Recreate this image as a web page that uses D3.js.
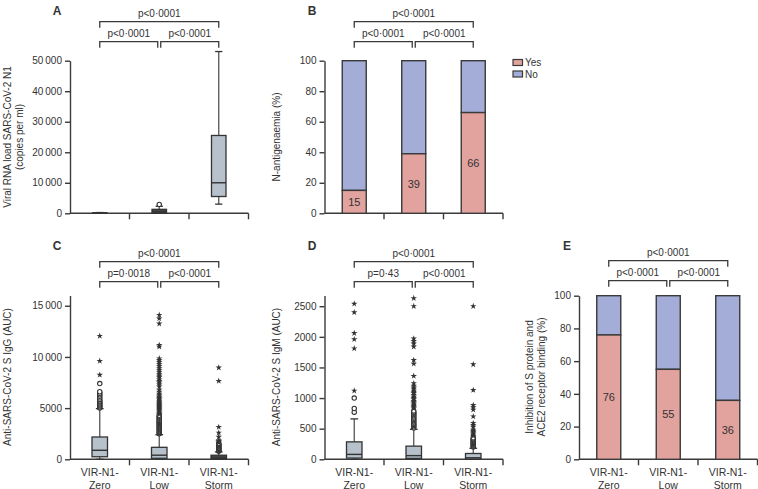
<!DOCTYPE html>
<html><head><meta charset="utf-8">
<script src="https://cdn.jsdelivr.net/npm/d3@7"></script>
<style>
body{margin:0;background:#fff}
text{font-family:"Liberation Sans",Arial,sans-serif;fill:#333}
</style>
</head><body>
<svg id="chart" width="758" height="489"></svg>
<script>
// ---------- DATA ----------
const categories = ["VIR-N1-Zero", "VIR-N1-Low", "VIR-N1-Storm"];
const xLabelLines = [["VIR-N1-", "Zero"], ["VIR-N1-", "Low"], ["VIR-N1-", "Storm"]];

// Panel A: viral RNA load (copies per ml)
const viralLow    = [0, 0, 3000];
const viralQ1     = [0, 0, 5500];
const viralMedian = [50, 500, 10000];
const viralQ3     = [150, 1300, 25500];
const viralHigh   = [250, 2300, 53000];
const viralCircles = [[], [2900], []];
const viralStars   = [[], [], []];
const viralTicks = [0, 10000, 20000, 30000, 40000, 50000];
const pValuesA = ["p<0·0001", "p<0·0001", "p<0·0001"];

// Panel B: N-antigenaemia (%)
const antigenYes = [15, 39, 66];
const antigenNo  = [85, 61, 34];
const legendLabels = ["Yes", "No"];
const pValuesB = ["p<0·0001", "p<0·0001", "p<0·0001"];
const percentTicks = [0, 20, 40, 60, 80, 100];

// Panel C: anti-S IgG (AUC)
const iggLow    = [0, 0, 0];
const iggQ1     = [250, 100, 30];
const iggMedian = [880, 400, 120];
const iggQ3     = [2180, 1170, 400];
const iggHigh   = [4950, 2400, 720];
const iggCircles = [
  [5000, 5100, 5200, 5300, 5400, 5500, 5600, 5700, 5850, 6000, 6150, 6300, 6450, 6600, 7400],
  [2500, 2600, 2700, 2800, 2900, 3000, 3100, 3200, 3300, 3400, 3500, 3600, 3700, 3800, 3900, 4000, 4100, 4200, 4300],
  [780, 850, 920, 990, 1060, 1130, 1200, 1270, 1340, 1410, 1480, 1550]
];
const iggStars = [
  [8250, 9600, 12050],
  [4400, 4500, 4600, 4700, 4800, 4900, 5000, 5100, 5200, 5300, 5400, 5500, 5600, 5700, 5800, 5900, 6000, 6100, 6250, 6400, 6600, 6800, 7100, 7300, 7500, 7650, 7800, 8000, 8150, 8300, 8500, 8700, 8900, 9100, 9300, 9500, 9700, 9850, 11000, 11150, 13250, 13750, 14100],
  [1620, 1700, 1780, 1860, 2200, 2600, 3150, 7650, 8950]
];
const iggTicks = [0, 5000, 10000, 15000];
const pValuesC = ["p<0·0001", "p=0·0018", "p<0·0001"];

// Panel D: anti-S IgM (AUC)
const igmLow    = [0, 0, 0];
const igmQ1     = [20, 15, 5];
const igmMedian = [80, 60, 25];
const igmQ3     = [285, 215, 95];
const igmHigh   = [660, 490, 180];
const igmCircles = [
  [770, 830, 1000],
  [510, 530, 550, 570, 590, 610, 630, 650, 670, 690, 710, 730, 750, 770, 790],
  [200, 215, 230, 245, 260, 275, 290, 305, 320, 335, 350]
];
const igmStars = [
  [1120, 1810, 1960, 2060, 2400, 2540],
  [830, 850, 870, 890, 910, 930, 950, 980, 1000, 1020, 1050, 1080, 1100, 1120, 1150, 1170, 1200, 1240, 1360, 1560, 1620, 1840, 1890, 1930, 1970, 2500, 2630],
  [380, 400, 420, 440, 460, 480, 530, 560, 590, 700, 810, 850, 885, 1130, 1550, 2500]
];
const igmTicks = [0, 500, 1000, 1500, 2000, 2500];
const pValuesD = ["p<0·0001", "p=0·43", "p<0·0001"];

// Panel E: inhibition of S protein / ACE2 binding (%)
const inhibitionYes = [76, 55, 36];
const inhibitionNo  = [24, 45, 64];
const pValuesE = ["p<0·0001", "p<0·0001", "p<0·0001"];

// ---------- STYLE / LAYOUT ----------
const pink = "#e2a29e", blue = "#a3add8";
const boxFill = "#b6c1cb", ink = "#333", axisInk = "#3a3a3a";
const fmt = v => v >= 10000 ? d3.format(",")(v).replace(",", "\u2009") : String(v);
const svg = d3.select("#chart");

function makePanel(o) {
  const g = svg.append("g");
  const x = d3.scaleBand().domain(categories).range([o.x0, o.x0 + 178.5]);
  const y = d3.scaleLinear().domain([0, o.ymax]).range([o.yBottom, o.yTop]);
  const ya = g.append("g").attr("transform", `translate(${o.x0},0)`)
    .call(d3.axisLeft(y).tickValues(o.ticks).tickSize(5).tickSizeOuter(0).tickPadding(3).tickFormat(fmt));
  ya.selectAll("path,line").attr("stroke", axisInk).attr("stroke-width", 1.4);
  ya.selectAll("text").attr("font-size", 10).attr("fill", "#333")
    .attr("font-family", '"Liberation Sans",Arial,sans-serif');
  g.append("line").attr("x1", x.range()[0]).attr("x2", x.range()[1])
    .attr("y1", o.yBottom).attr("y2", o.yBottom).attr("stroke", axisInk).attr("stroke-width", 1.4);
  g.selectAll(".xt").data(categories).enter().append("line")
    .attr("x1", d => x(d) + x.bandwidth()).attr("x2", d => x(d) + x.bandwidth())
    .attr("y1", o.yBottom).attr("y2", o.yBottom + 6).attr("stroke", axisInk).attr("stroke-width", 1.4);
  if (o.xLabels) {
    categories.forEach((c, i) => {
      const t = g.append("text").attr("text-anchor", "middle").attr("font-size", 10.5);
      xLabelLines[i].forEach((ln, j) => t.append("tspan").attr("x", x(c) + x.bandwidth() / 2)
        .attr("y", j === 0 ? 476 : 488.5).text(ln));
    });
  }
  o.ylabel.forEach((ln, j) => {
    g.append("text").attr("transform", `translate(${o.ylabelX[j]},${o.ylabelY}) rotate(-90)`)
      .attr("text-anchor", "middle").attr("font-size", 10).text(ln);
  });
  g.append("text").attr("x", o.letterX).attr("y", o.letterY).attr("text-anchor", "middle")
    .attr("font-size", 12).attr("font-weight", "bold").text(o.letter);
  const cx = i => x(categories[i]) + x.bandwidth() / 2;
  const br = (xa, xb, yy, label) => {
    g.append("path").attr("d", `M${xa},${yy + 6}V${yy}H${xb}V${yy + 6}`)
      .attr("fill", "none").attr("stroke", axisInk).attr("stroke-width", 1.3);
    g.append("text").attr("x", (xa + xb) / 2).attr("y", yy - 5).attr("text-anchor", "middle")
      .attr("font-size", 10).text(label);
  };
  br(cx(0), cx(2), o.brTop, o.p[0]);
  br(cx(0), cx(1) - 1.5, o.brTop + 20, o.p[1]);
  br(cx(1) + 1.5, cx(2), o.brTop + 20, o.p[2]);
  return {g, x, y};
}

function drawBoxes(P, low, q1, med, q3, high, circles, stars, bw) {
  const {g, x, y} = P;
  categories.forEach((c, i) => {
    const cx = x(c) + x.bandwidth() / 2;
    g.append("line").attr("x1", cx).attr("x2", cx).attr("y1", y(q3[i])).attr("y2", y(high[i]))
      .attr("stroke", "#555").attr("stroke-width", 1.3);
    g.append("line").attr("x1", cx).attr("x2", cx).attr("y1", y(q1[i])).attr("y2", y(low[i]))
      .attr("stroke", "#555").attr("stroke-width", 1.3);
    [high[i], low[i]].forEach(v => g.append("line").attr("x1", cx - bw / 4).attr("x2", cx + bw / 4)
      .attr("y1", y(v)).attr("y2", y(v)).attr("stroke", ink).attr("stroke-width", 1.3));
    const h = y(q1[i]) - y(q3[i]);
    g.append("rect").attr("x", cx - bw / 2).attr("width", bw)
      .attr("y", y(q3[i])).attr("height", Math.max(0.5, h))
      .attr("fill", h < 4.5 ? "#444" : boxFill).attr("stroke", ink).attr("stroke-width", 1.3);
    g.append("line").attr("x1", cx - bw / 2).attr("x2", cx + bw / 2)
      .attr("y1", y(med[i])).attr("y2", y(med[i])).attr("stroke", ink).attr("stroke-width", 1.4);
    circles[i].forEach(v => g.append("circle").attr("cx", cx).attr("cy", y(v)).attr("r", 2.2)
      .attr("fill", "#fff").attr("stroke", ink).attr("stroke-width", 1.1));
    stars[i].forEach(v => g.append("path").attr("d", d3.symbol(d3.symbolStar, 13)())
      .attr("transform", `translate(${cx},${y(v)})`).attr("fill", ink));
  });
}

function drawBars(P, yes, no, bw) {
  const {g, x, y} = P;
  categories.forEach((c, i) => {
    const cx = x(c) + x.bandwidth() / 2;
    g.append("rect").attr("x", cx - bw / 2).attr("width", bw).attr("y", y(yes[i] + no[i]))
      .attr("height", y(yes[i]) - y(yes[i] + no[i])).attr("fill", blue).attr("stroke", axisInk).attr("stroke-width", 1.4);
    g.append("rect").attr("x", cx - bw / 2).attr("width", bw).attr("y", y(yes[i]))
      .attr("height", y(0) - y(yes[i])).attr("fill", pink).attr("stroke", axisInk).attr("stroke-width", 1.4);
    g.append("text").attr("x", cx).attr("y", y(yes[i] / 2) + 4).attr("text-anchor", "middle")
      .attr("font-size", 11).text(yes[i]);
  });
}

const A = makePanel({x0: 70, yTop: 60.7, yBottom: 213.3, ymax: 50000, ticks: viralTicks,
  ylabel: ["Viral RNA load SARS-CoV-2 N1", "(copies per ml)"], ylabelX: [11, 23], ylabelY: 137,
  letter: "A", letterX: 57, letterY: 15, brTop: 21.7, p: pValuesA, xLabels: false});
drawBoxes(A, viralLow, viralQ1, viralMedian, viralQ3, viralHigh, viralCircles, viralStars, 14.5);

const B = makePanel({x0: 324.5, yTop: 60.7, yBottom: 213.3, ymax: 100, ticks: percentTicks,
  ylabel: ["N-antigenaemia (%)"], ylabelX: [280], ylabelY: 137,
  letter: "B", letterX: 312, letterY: 15, brTop: 21.7, p: pValuesB, xLabels: false});
drawBars(B, antigenYes, antigenNo, 24);
[pink, blue].forEach((col, i) => {
  B.g.append("rect").attr("x", 513).attr("y", 59.5 + i * 11.5).attr("width", 9.5).attr("height", 6)
    .attr("fill", col).attr("stroke", axisInk).attr("stroke-width", 1.2);
  B.g.append("text").attr("x", 525).attr("y", 66 + i * 11.5).attr("font-size", 10).text(legendLabels[i]);
});

const C = makePanel({x0: 70, yTop: 295.5, yBottom: 459.3, ymax: 16000, ticks: iggTicks,
  ylabel: ["Anti-SARS-CoV-2 S IgG (AUC)"], ylabelX: [11], ylabelY: 377,
  letter: "C", letterX: 57, letterY: 250, brTop: 261.7, p: pValuesC, xLabels: true});
drawBoxes(C, iggLow, iggQ1, iggMedian, iggQ3, iggHigh, iggCircles, iggStars, 15.5);

const D = makePanel({x0: 324.5, yTop: 295.5, yBottom: 459.3, ymax: 2675, ticks: igmTicks,
  ylabel: ["Anti-SARS-CoV-2 S IgM (AUC)"], ylabelX: [280], ylabelY: 377,
  letter: "D", letterX: 312, letterY: 250, brTop: 261.7, p: pValuesD, xLabels: true});
drawBoxes(D, igmLow, igmQ1, igmMedian, igmQ3, igmHigh, igmCircles, igmStars, 15.5);

const E = makePanel({x0: 579, yTop: 295.7, yBottom: 459.3, ymax: 100, ticks: percentTicks,
  ylabel: ["Inhibition of S protein and", "ACE2 receptor binding  (%)"], ylabelX: [533, 545], ylabelY: 377,
  letter: "E", letterX: 567, letterY: 250, brTop: 260.7, p: pValuesE, xLabels: true});
drawBars(E, inhibitionYes, inhibitionNo, 24);
</script>
</body></html>
